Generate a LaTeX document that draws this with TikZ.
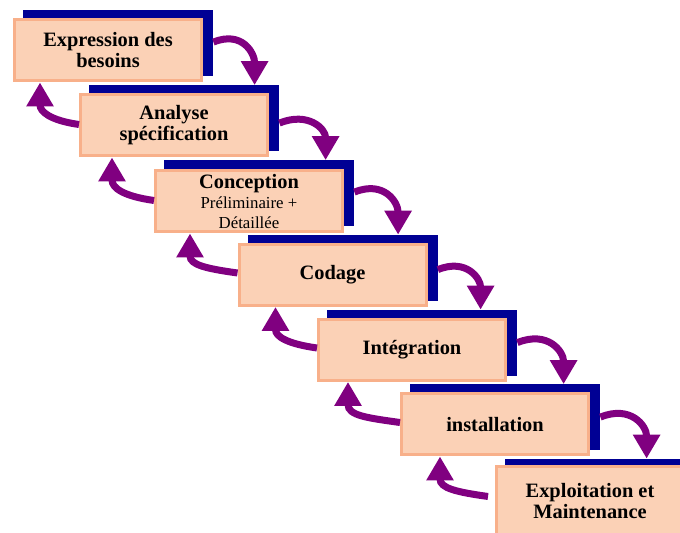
\documentclass[tikz,border=0pt]{standalone}
\usepackage{fontspec}
\setmainfont{Liberation Serif}
\usetikzlibrary{arrows.meta}
\definecolor{peach}{HTML}{FBD1B6}
\definecolor{peachedge}{HTML}{F8B08A}
\definecolor{navy}{HTML}{000094}
\definecolor{plum}{HTML}{800080}
\begin{document}
\begin{tikzpicture}[x=0.5pt,y=0.5pt,
  stepbox/.style={draw=peachedge,fill=peach,line width=1.5pt,minimum width=93.5pt,minimum height=30.5pt,inner sep=0pt,align=center,font=\bfseries\fontsize{10.2}{10.5}\selectfont},
  shadowbox/.style={fill=navy,minimum width=95pt,minimum height=33pt,inner sep=0pt},
  fwd/.style={plum,line width=3.5pt,-{Triangle[width=13pt,length=12pt]},out=22,in=90,looseness=1.35},
  bwd/.style={plum,line width=3.5pt,-{Triangle[width=13pt,length=12pt]},out=172,in=-90,looseness=1.3}]
\useasboundingbox (0,0) rectangle (680,-533);
\clip (0,0) rectangle (680,-533);
% shadows
\node[shadowbox] (s1) at (118,-43.5) {};
\node[shadowbox] (s2) at (184,-118.5) {};
\node[shadowbox] (s3) at (259,-193.5) {};
\node[shadowbox] (s4) at (342.5,-268) {};
\node[shadowbox] (s5) at (422,-343) {};
\node[shadowbox] (s6) at (505,-417.5) {};
\node[shadowbox] (s7) at (600,-492) {};
% boxes
\node[stepbox] (b1) at (108,-50.5) {Expression des\\besoins};
\node[stepbox] (b2) at (174,-125.5) {Analyse\\spécification};
\node[stepbox,font=\bfseries\fontsize{10.2}{10}\selectfont] (b3) at (249,-201.5) {Conception\\{\mdseries\fontsize{8.4}{10}\selectfont Préliminaire +}\\{\mdseries\fontsize{8.4}{10}\selectfont Détaillée}};
\node[stepbox] (b4) at (332.5,-275) {Codage};
\node[stepbox] (b5) at (412,-350) {Intégration};
\node[stepbox] (b6) at (495,-424.5) {installation};
\node[stepbox,minimum height=34pt] (b7) at (590,-501) {Exploitation et\\Maintenance};
% forward arrows
\draw[fwd] ([yshift=-16pt]s1.north east) to ([xshift=83pt]s2.north west);
\draw[fwd] ([yshift=-19pt]s2.north east) to ([xshift=81pt]s3.north west);
\draw[fwd] ([yshift=-16pt]s3.north east) to ([xshift=75.5pt]s4.north west);
\draw[fwd] ([yshift=-17.5pt]s4.north east) to ([xshift=77pt]s5.north west);
\draw[fwd] ([yshift=-16.5pt]s5.north east) to ([xshift=77pt]s6.north west);
\draw[fwd] ([yshift=-16.5pt]s6.north east) to ([xshift=71pt]s7.north west);
% backward arrows
\draw[bwd] ([yshift=-15.5pt]b2.north west) to ([xshift=13.5pt]b1.south west);
\draw[bwd] ([yshift=-15.5pt]b3.north west) to ([xshift=16.5pt]b2.south west);
\draw[bwd] ([yshift=-15pt]b4.north west) to ([xshift=18pt]b3.south west);
\draw[bwd] ([yshift=-15pt]b5.north west) to ([xshift=19pt]b4.south west);
\draw[bwd] ([yshift=-15pt]b6.north west) to ([xshift=15.5pt]b5.south west);
\draw[bwd] ([xshift=-3.5pt,yshift=-15.5pt]b7.north west) to ([xshift=20pt]b6.south west);
\end{tikzpicture}
\end{document}
